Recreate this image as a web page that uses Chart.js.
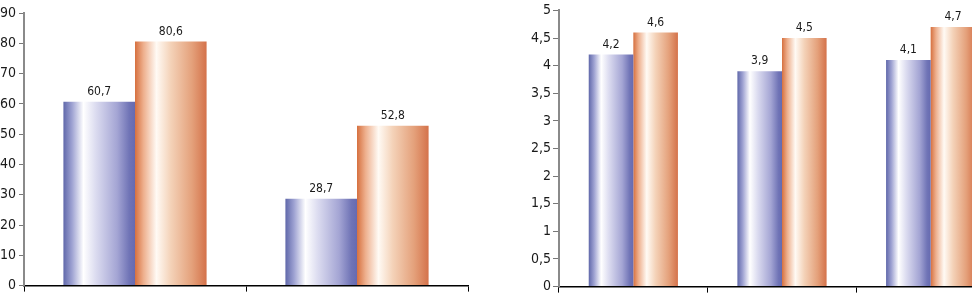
<!DOCTYPE html>
<html>
<head>
<meta charset="utf-8">
<script src="https://cdn.jsdelivr.net/npm/chart.js@4"></script>
<style>
  html, body { margin:0; padding:0; background:#fff; }
  body { width:972px; height:297px; overflow:hidden; position:relative; }
  .box { position:absolute; top:0; height:297px; }
  #leftBox { left:0; width:470px; }
  #rightBox { left:500px; width:505px; }
</style>
</head>
<body>
<div class="box" id="leftBox"><canvas id="leftChart"></canvas></div>
<div class="box" id="rightBox"><canvas id="rightChart"></canvas></div>
<script>
// ---------- DATA ----------
const leftCats = ['', ''];
const leftBlue = [60.7, 28.7];
const leftOrange = [80.6, 52.8];

const rightCats = ['', '', ''];
const rightBlue = [4.2, 3.9, 4.1];
const rightOrange = [4.6, 4.5, 4.7];

// ---------- STYLE ----------
Chart.defaults.font.family = "'Liberation Sans Narrow', 'DejaVu Sans Condensed', sans-serif";
Chart.defaults.color = '#1a1a1a';

const blueStops = [[0,'#6068aa'],[0.12,'#9ea2d2'],[0.28,'#ffffff'],[0.45,'#dcdcf0'],[0.75,'#a4a5d4'],[0.92,'#7074b6'],[1,'#666ab0']];
const orangeStops = [[0,'#d6703f'],[0.12,'#eeb08e'],[0.3,'#fffaf4'],[0.5,'#f4d2b8'],[0.8,'#e4a07a'],[1,'#d4724a']];

function comma(v){ return String(v).replace('.', ','); }

// gradient per bar, horizontal
const gradientPlugin = {
  id:'barGradient',
  beforeDatasetDraw(chart, args){
    const ctx = chart.ctx;
    const stops = args.index === 0 ? blueStops : orangeStops;
    args.meta.data.forEach(el=>{
      const p = el.getProps(['x','width'], true);
      const g = ctx.createLinearGradient(p.x - p.width/2, 0, p.x + p.width/2, 0);
      stops.forEach(s=>g.addColorStop(s[0], s[1]));
      el.options = Object.assign({}, el.options, {backgroundColor:g});
    });
  }
};

// value labels over the bars
const valuePlugin = {
  id:'valueLabels',
  afterDatasetsDraw(chart){
    const ctx = chart.ctx;
    ctx.save();
    ctx.font = "12px 'Liberation Sans Narrow', 'DejaVu Sans Condensed', sans-serif";
    ctx.fillStyle = '#1a1a1a';
    ctx.textAlign = 'center';
    ctx.textBaseline = 'bottom';
    chart.data.datasets.forEach((ds, di)=>{
      chart.getDatasetMeta(di).data.forEach((el, i)=>{
        ctx.fillText(comma(ds.data[i]), el.x, el.y - 4);
      });
    });
    ctx.restore();
  }
};

function makeChart(id, cats, blue, orange, opts){
  return new Chart(document.getElementById(id), {
    type:'bar',
    data:{
      labels:cats,
      datasets:[
        {data:blue, backgroundColor:'#8a8ec6', borderWidth:0, barPercentage:1, categoryPercentage:opts.catPct},
        {data:orange, backgroundColor:'#e8a47e', borderWidth:0, barPercentage:1, categoryPercentage:opts.catPct}
      ]
    },
    options:{
      responsive:true,
      maintainAspectRatio:false,
      animation:false,
      layout:{padding:{top:opts.top, right:opts.right, left:0, bottom:0}},
      plugins:{legend:{display:false}, tooltip:{enabled:false}},
      scales:{
        x:{
          grid:{display:true, offset:true, drawOnChartArea:false, tickLength:6, tickColor:'#000', tickWidth:1},
          border:{display:true, color:'#000', width:1.5},
          ticks:{display:false},
          afterFit:s=>{ s.height = opts.xh; }
        },
        y:{
          min:0, max:opts.max,
          grid:{display:true, drawOnChartArea:false, tickLength:opts.tl, tickColor:'#777', tickWidth:1},
          border:{display:true, color:'#8a8a8a', width:2},
          ticks:{stepSize:opts.step, padding:opts.pad, font:{size:14}, color:'#1a1a1a', callback:v=>comma(v)},
          afterFit:s=>{ s.width = opts.yw; }
        }
      }
    },
    plugins:[gradientPlugin, valuePlugin]
  });
}

makeChart('leftChart', leftCats, leftBlue, leftOrange,
  {catPct:0.645, top:13, right:2, xh:8, max:90, step:10, tl:5, pad:3, yw:24});
makeChart('rightChart', rightCats, rightBlue, rightOrange,
  {catPct:0.6, top:9, right:0, xh:9, max:5, step:0.5, tl:6, pad:2, yw:59});
</script>
</body>
</html>
